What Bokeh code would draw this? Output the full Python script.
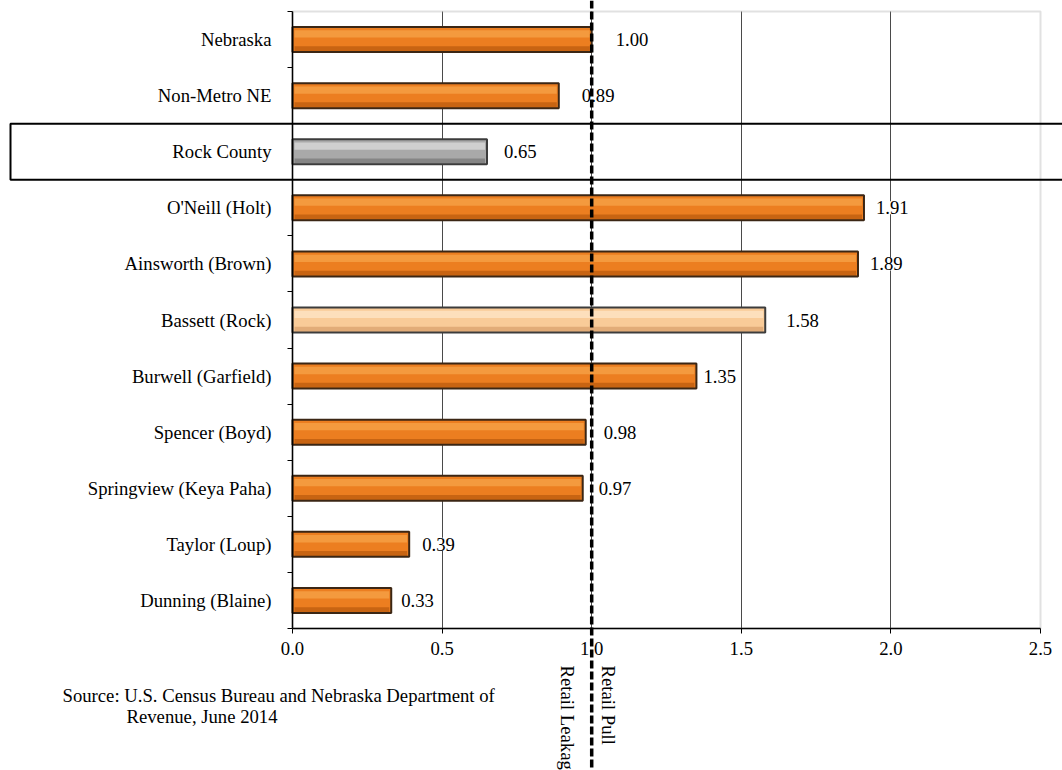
import math
from bokeh.plotting import figure
from bokeh.models import (ColumnDataSource, Range1d, FixedTicker, NumeralTickFormatter,
                          LabelSet, Label, Span, BoxAnnotation)
from bokeh.core.properties import value
from bokeh.embed import file_html
from bokeh.resources import INLINE

# ---------------- data ----------------
categories = ["Nebraska", "Non-Metro NE", "Rock County", "O'Neill (Holt)",
              "Ainsworth (Brown)", "Bassett (Rock)", "Burwell (Garfield)",
              "Spencer (Boyd)", "Springview (Keya Paha)", "Taylor (Loup)",
              "Dunning (Blaine)"]
values = [1.00, 0.89, 0.65, 1.91, 1.89, 1.58, 1.35, 0.98, 0.97, 0.39, 0.33]
x_ticks = [0.0, 0.5, 1.0, 1.5, 2.0, 2.5]
reference_value = 1.0
side_labels = ["Retail Leakage", "Retail Pull"]
source_lines = ["Source: U.S. Census Bureau and Nebraska Department of",
                "Revenue, June 2014"]
highlighted_row = "Rock County"

# ---------------- styles ----------------
PALETTES = {
    "orange": dict(main="#EC7E20", hi="#F49A3E", lo="#C86412", edge="#3B2614"),
    "gray":   dict(main="#A9A9A9", hi="#CFCFCF", lo="#858585", edge="#3C3C3C"),
    "peach":  dict(main="#F9CB98", hi="#FDDFBC", lo="#E2AC78", edge="#3C3C3C"),
}
kind_of = {"Rock County": "gray", "Bassett (Rock)": "peach"}
label_dx = [24, 23, 17, 12, 12, 21, 7, 18, 16, 13, 10]   # pixel nudges of value labels
FONT_NAME = "Liberation Serif"
FONT = value(FONT_NAME)
FS = "18.7px"

# ---------------- geometry ----------------
W, H = 1062, 770
frame_left_px, frame_w_px = 292, 748
frame_top_px, frame_h_px = 11, 617
n = len(categories)
xmax = x_ticks[-1]
px_x = frame_w_px / xmax
px_y = frame_h_px / n
x_start = -frame_left_px / px_x
x_end = xmax + (W - frame_left_px - frame_w_px) / px_x
y_end = n + 0.5 + frame_top_px / px_y
y_start = 0.5 - (H - frame_top_px - frame_h_px) / px_y

ys = [n - i for i in range(n)]
centers = sorted(ys)
bounds_y = [k + 0.5 for k in range(n + 1)]

pal = [PALETTES[kind_of.get(c, "orange")] for c in categories]
bar_h = 0.446
inset = 2.0 / px_x
src = ColumnDataSource(dict(
    y=ys, v=values,
    r_in=[v - inset for v in values],
    y_hi=[y + 0.10 for y in ys],
    y_lo=[y - 0.165 for y in ys],
    main=[p_["main"] for p_ in pal], hi=[p_["hi"] for p_ in pal],
    lo=[p_["lo"] for p_ in pal], edge=[p_["edge"] for p_ in pal],
    txt=[f"{v:.2f}" for v in values], dx=label_dx,
))

p = figure(width=W, height=H, x_range=Range1d(x_start, x_end),
           y_range=Range1d(y_start, y_end), output_backend="svg",
           toolbar_location=None, min_border=0, outline_line_color=None,
           background_fill_color="white", border_fill_color="white")

# grid
p.ygrid.visible = False
p.xgrid.ticker = FixedTicker(ticks=[t for t in x_ticks if 0 < t < xmax])
p.xgrid.grid_line_color = "#4A4A4A"
p.xgrid.grid_line_width = 1
p.xgrid.cross_bounds = (0.5, n + 0.5)

# plot area border (grey)
p.add_layout(BoxAnnotation(left=0, right=xmax, bottom=0.5, top=n + 0.5,
                           fill_color=None, line_color="#9A9A9A", line_width=2,
                           level="underlay"))

# bars
p.hbar(y="y", left=0, right="v", height=bar_h, source=src,
       fill_color="main", line_color=None)
p.hbar(y="y_hi", left=inset, right="r_in", height=0.13, source=src,
       fill_color="hi", line_color=None)
p.hbar(y="y_lo", left=inset, right="r_in", height=0.09, source=src,
       fill_color="lo", line_color=None)
p.hbar(y="y", left=0, right="v", height=bar_h, source=src,
       fill_color=None, line_color="edge", line_width=2)

# value labels
p.add_layout(LabelSet(x="v", y="y", text="txt", x_offset="dx", source=src,
                      text_align="left", text_baseline="middle",
                      text_font=FONT, text_font_size=FS, text_color="black",
                      background_fill_color="white"))

# axes
xa = p.xaxis[0]
xa.fixed_location = 0.5
xa.bounds = (0, xmax)
xa.ticker = FixedTicker(ticks=x_ticks, minor_ticks=[])
xa.formatter = NumeralTickFormatter(format="0.0")
xa.axis_line_color = "black"
xa.axis_line_width = 1.5
xa.major_tick_in = 0
xa.major_tick_out = 5
xa.major_tick_line_color = "black"
xa.minor_tick_line_color = None
xa.major_label_standoff = 8
xa.major_label_text_font = FONT_NAME
xa.major_label_text_font_size = FS
xa.major_label_text_color = "black"

ya = p.yaxis[0]
ya.fixed_location = 0
ya.bounds = (0.5, n + 0.5)
ya.ticker = FixedTicker(ticks=centers, minor_ticks=bounds_y)
ya.major_label_overrides = {y: c for y, c in zip(ys, categories)}
ya.axis_line_color = "black"
ya.axis_line_width = 1.5
ya.major_tick_in = 0
ya.major_tick_out = 0
ya.minor_tick_in = 0
ya.minor_tick_out = 5
ya.minor_tick_line_color = "black"
ya.major_label_standoff = 16
ya.major_label_text_font = FONT_NAME
ya.major_label_text_font_size = FS
ya.major_label_text_color = "black"

# highlighted row frame
hy = ys[categories.index(highlighted_row)]
p.add_layout(BoxAnnotation(left=x_start + 10 / px_x, right=x_end + 1,
                           bottom=hy - 0.5, top=hy + 0.5,
                           fill_color=None, fill_alpha=0, line_color="black",
                           line_alpha=1.0, line_width=2))

# side labels around the reference line
for txt, dx in zip(side_labels, [-14, 27]):
    p.add_layout(Label(x=reference_value, y=0.5 - 37 / px_y, x_offset=dx,
                       text=txt, angle=-math.pi / 2,
                       text_align="left", text_baseline="top",
                       text_font=FONT_NAME, text_font_size=FS, text_color="black"))

# source note
for txt, dx, dy in zip(source_lines, [-230, -166], [-67, -88]):
    p.add_layout(Label(x=0, y=0.5, x_offset=dx, y_offset=dy, text=txt,
                       text_align="left", text_baseline="middle",
                       text_font=FONT_NAME, text_font_size=FS, text_color="black"))

# reference dashed line
p.add_layout(Span(location=reference_value, dimension="height", line_color="black",
                  line_width=3.5, line_dash="8 3", level="overlay"))

open("out.html", "w").write(file_html(p, INLINE))
